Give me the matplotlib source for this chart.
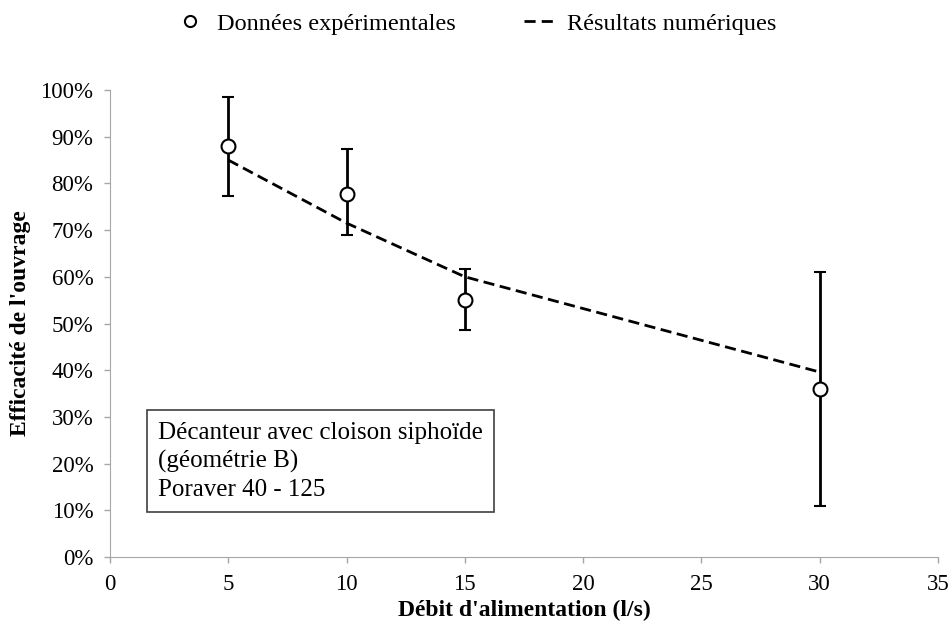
import numpy as np
import matplotlib
matplotlib.use('Agg')
import matplotlib.pyplot as plt
from matplotlib.ticker import PercentFormatter
from matplotlib.lines import Line2D

# experimental data (flow l/s, efficiency %)
debit_exp = [5, 10, 15, 30]
eff_exp = [88.0, 77.8, 55.0, 36.0]
err_low = [10.7, 8.8, 6.4, 25.0]
err_high = [10.4, 9.5, 6.7, 25.0]

# numerical results
debit_num = [5, 10, 15, 30]
eff_num = [85.0, 71.5, 60.0, 39.6]

plt.rcParams['font.family'] = ['Liberation Serif', 'DejaVu Serif']

fig = plt.figure(figsize=(9.51, 6.24), dpi=100)
ax = fig.add_axes([110/951, 1 - 557/624, (938-110)/951, (557-90)/624])

ax.errorbar(debit_exp, eff_exp, yerr=[err_low, err_high], fmt='o', mfc='white',
            mec='black', mew=1.5, ms=10, ecolor='black', elinewidth=2,
            capsize=4, capthick=1.5, zorder=3)
ax.plot(debit_num, eff_num, color='black', lw=2, ls=(0, (4, 2)), zorder=2)

ax.set_xlim(0, 35)
ax.set_ylim(0, 100)
ax.set_xticks(np.arange(0, 36, 5))
ax.set_yticks(np.arange(0, 101, 10))
ax.yaxis.set_major_formatter(PercentFormatter(decimals=0))
for s in ['top', 'right']:
    ax.spines[s].set_visible(False)
for s in ['left', 'bottom']:
    ax.spines[s].set_color('#a6a6a6')
ax.tick_params(colors='#a6a6a6', labelcolor='black', labelsize=16.5, length=4.5, width=1)
ax.tick_params(axis='x', pad=8)
ax.tick_params(axis='y', pad=7.5)

ax.set_xlabel("Débit d'alimentation (l/s)", fontsize=17, fontweight='bold', labelpad=3)
ax.set_ylabel("Efficacité de l'ouvrage", fontsize=17, fontweight='bold', labelpad=7)

ax.text(0.058, 0.29, "Décanteur avec cloison siphoïde\n(géométrie B)\nPoraver 40 - 125",
        transform=ax.transAxes, fontsize=18, va='top', ha='left', linespacing=1.35,
        bbox=dict(boxstyle='square,pad=0.45', fc='white', ec='#404040', lw=1.2))

h1 = Line2D([], [], marker='o', ls='none', mfc='white', mec='black', mew=1.5, ms=8)
h2 = Line2D([], [], color='black', lw=2, ls=(0, (4, 2.2)))
fig.legend([h1, h2], ['Données expérimentales', 'Résultats numériques'],
           loc='upper center', bbox_to_anchor=(0.5, 1.015), ncol=2, frameon=False,
           fontsize=17.5, handlelength=1.25, columnspacing=2.8, handletextpad=0.5)

fig.savefig('out.png', dpi=100)
